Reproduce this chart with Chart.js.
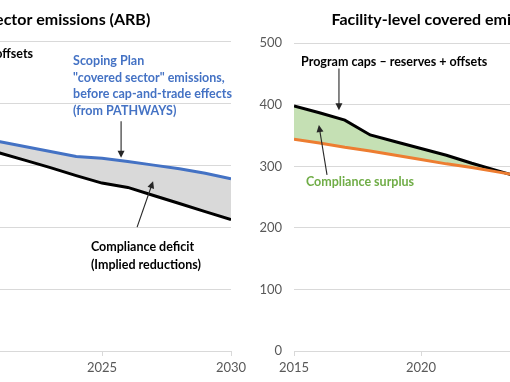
<!DOCTYPE html>
<html><head><meta charset="utf-8">
<script src="https://cdn.jsdelivr.net/npm/chart.js@4"></script>
<style>
html,body{margin:0;padding:0;background:#fff;}
#wrap{position:relative;width:510px;height:382px;overflow:hidden;background:#fff;}
#c1{position:absolute;left:-200px;top:0;}
#c2{position:absolute;left:250px;top:0;}
</style></head><body>
<div id="wrap"><canvas id="c1" width="451" height="382"></canvas><canvas id="c2" width="445" height="382"></canvas></div>
<script>
// ---- data (left panel: covered sector emissions, ARB) ----
const yearsLeft = [2020,2021,2022,2023,2024,2025,2026,2027,2028,2029,2030];
const scopingPlanEmissions = [346,338,330,322,314,311,306,300,294,287,278];
const capsLeft = [332,320,308,296,283,271,264,251,238,225,212];
// ---- data (right panel: facility-level covered emissions) ----
const yearsRight = [2015,2016,2017,2018,2019,2020,2021,2022,2023,2024];
const capsRight = [398,387,375,351,340,329,318,305,293,281];
const facilityEmissions = [344,338,331,325,318,311,304,298,291,284];
// ---- axes ----
const xTickValues = [2015,2020,2025,2030];
const yTickValues = [0,100,200,300,400,500];

const FONT = 'Lato, "Open Sans", sans-serif';
const toXY = (xs, ys) => xs.map((x, i) => ({x, y: ys[i]}));

const annoPlugin = {
  id: 'anno',
  afterDatasetsDraw(chart, args, opts) {
    const {ctx} = chart; const xs = chart.scales.x, ys = chart.scales.y;
    (opts.items || []).forEach(it => {
      ctx.save();
      if (it.type === 'text') {
        ctx.font = it.font; ctx.fillStyle = it.color;
        ctx.textAlign = it.align || 'left'; ctx.textBaseline = 'middle';
        const px = xs.getPixelForValue(it.x), py = ys.getPixelForValue(it.y);
        it.lines.forEach((l, i) => ctx.fillText(l, px, py + i * it.lineHeight));
      } else if (it.type === 'arrow') {
        const x1 = xs.getPixelForValue(it.x1), y1 = ys.getPixelForValue(it.y1);
        const x2 = xs.getPixelForValue(it.x2), y2 = ys.getPixelForValue(it.y2);
        const a = Math.atan2(y2 - y1, x2 - x1), L = 7, W = 3.5;
        ctx.strokeStyle = '#262626'; ctx.fillStyle = '#262626'; ctx.lineWidth = 1.1;
        ctx.beginPath(); ctx.moveTo(x1, y1);
        ctx.lineTo(x2 - Math.cos(a) * L * 0.8, y2 - Math.sin(a) * L * 0.8); ctx.stroke();
        ctx.beginPath(); ctx.moveTo(x2, y2);
        ctx.lineTo(x2 - Math.cos(a) * L - Math.sin(a) * W, y2 - Math.sin(a) * L + Math.cos(a) * W);
        ctx.lineTo(x2 - Math.cos(a) * L + Math.sin(a) * W, y2 - Math.sin(a) * L - Math.cos(a) * W);
        ctx.closePath(); ctx.fill();
      }
      ctx.restore();
    });
  }
};

function scales(yWidth, yPad) {
  return {
    x: {
      type: 'linear', min: 2015, max: 2030,
      afterBuildTicks: s => { s.ticks = xTickValues.map(v => ({value: v})); },
      afterFit: s => { s.height = 31; },
      grid: {drawOnChartArea: false, tickLength: 5, color: '#D9D9D9'},
      border: {color: '#D9D9D9', width: 1},
      ticks: {color: '#595959', font: {family: FONT, size: 13}, padding: 4, maxRotation: 0,
              callback: v => String(v)}
    },
    y: {
      min: 0, max: 500,
      afterBuildTicks: s => { s.ticks = yTickValues.map(v => ({value: v})); },
      afterFit: s => { s.width = yWidth; },
      grid: {color: '#D9D9D9', drawTicks: false},
      border: {display: false},
      ticks: {color: '#595959', font: {family: FONT, size: 13}, padding: yPad}
    }
  };
}

const bold = sz => 'bold ' + sz + 'px ' + FONT;

function draw() {
  new Chart(document.getElementById('c1'), {
    type: 'line',
    data: {datasets: [
      {label: 'Scoping Plan', data: toXY(yearsLeft, scopingPlanEmissions), borderColor: '#4472C4',
       borderWidth: 3, pointRadius: 0, fill: false, tension: 0},
      {label: 'Caps', data: toXY(yearsLeft, capsLeft), borderColor: '#000000', borderWidth: 3,
       pointRadius: 0, fill: '-1', backgroundColor: '#D9D9D9', tension: 0}
    ]},
    options: {
      responsive: false, animation: false, events: [],
      layout: {padding: {left: 0, right: 20, top: 0, bottom: 0}},
      scales: scales(44, 12),
      plugins: {
        legend: {display: false}, tooltip: {enabled: false},
        title: {display: true, fullSize: false, text: 'Covered sector emissions (ARB)', color: '#000',
                font: {family: FONT, size: 16, weight: 'bold'}, padding: {top: 10, bottom: 12}},
        anno: {items: [
          {type: 'text', x: 2022.33, y: 479, align: 'right', font: bold(12.5), color: '#000',
           lineHeight: 17, lines: ['Program caps \u2013 reserves + offsets']},
          {type: 'text', x: 2023.88, y: 468, font: bold(12.5), color: '#4472C4', lineHeight: 16.7,
           lines: ['Scoping Plan', '"covered sector" emissions,', 'before cap-and-trade effects', '(from PATHWAYS)']},
          {type: 'arrow', x1: 2025.74, y1: 371, x2: 2025.74, y2: 312},
          {type: 'text', x: 2024.57, y: 168, font: bold(12.5), color: '#000', lineHeight: 18,
           lines: ['Compliance deficit', '(Implied reductions)']},
          {type: 'arrow', x1: 2026.36, y1: 200, x2: 2026.98, y2: 274}
        ]}
      }
    },
    plugins: [annoPlugin]
  });

  new Chart(document.getElementById('c2'), {
    type: 'line',
    data: {datasets: [
      {label: 'Facility emissions', data: toXY(yearsRight, facilityEmissions), borderColor: '#ED7D31',
       borderWidth: 3, pointRadius: 0, fill: false, tension: 0},
      {label: 'Caps', data: toXY(yearsRight, capsRight), borderColor: '#000000', borderWidth: 3,
       pointRadius: 0, fill: {target: '-1', above: '#C5E0B4', below: '#D9D9D9'}, tension: 0}
    ]},
    options: {
      responsive: false, animation: false, events: [],
      layout: {padding: {left: 0, right: 20, top: 0, bottom: 0}},
      scales: scales(44, 12),
      plugins: {
        legend: {display: false}, tooltip: {enabled: false},
        title: {display: true, fullSize: false, text: 'Facility-level covered emissions (MRR data)', color: '#000',
                font: {family: FONT, size: 16, weight: 'bold'}, padding: {top: 10, bottom: 14}},
        anno: {items: [
          {type: 'text', x: 2015.28, y: 469, font: bold(12.5), color: '#000', lineHeight: 17,
           lines: ['Program caps \u2013 reserves + offsets']},
          {type: 'arrow', x1: 2016.77, y1: 459, x2: 2016.77, y2: 391},
          {type: 'text', x: 2015.47, y: 274, font: bold(12.5), color: '#70AD47', lineHeight: 17,
           lines: ['Compliance surplus']},
          {type: 'arrow', x1: 2016.3, y1: 286, x2: 2015.98, y2: 367}
        ]}
      }
    },
    plugins: [annoPlugin]
  });
}

if (document.fonts && document.fonts.load) {
  Promise.all([document.fonts.load('bold 13px Lato'), document.fonts.load('13px Lato')])
    .then(draw, draw);
} else { draw(); }
</script>
</body></html>
